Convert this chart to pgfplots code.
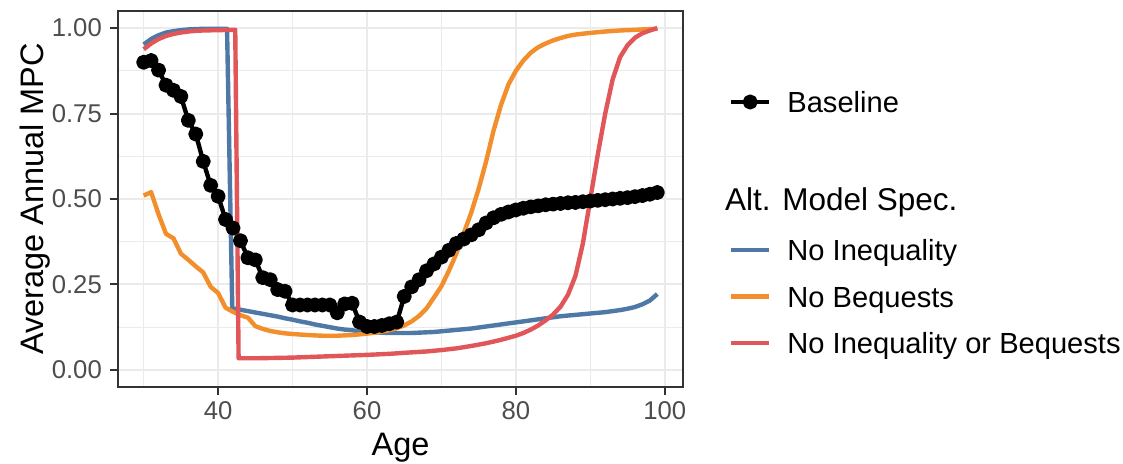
\documentclass[border=0pt]{standalone}
\usepackage{pgfplots}
\usepackage{pgfplotstable}
\pgfplotsset{compat=1.18}
\usepackage{fontspec}
\setmainfont{Liberation Sans}
\definecolor{cblue}{HTML}{4E79A7}
\definecolor{corange}{HTML}{F28E2B}
\definecolor{cred}{HTML}{E15759}
\definecolor{gridc}{HTML}{EBEBEB}
\definecolor{framec}{HTML}{333333}
\definecolor{ticklab}{HTML}{4D4D4D}

\pgfplotstableread{
age mpc
30 0.900
31 0.905
32 0.877
33 0.833
34 0.818
35 0.800
36 0.730
37 0.690
38 0.610
39 0.540
40 0.508
41 0.440
42 0.415
43 0.378
44 0.328
45 0.322
46 0.270
47 0.264
48 0.235
49 0.230
50 0.190
51 0.190
52 0.190
53 0.190
54 0.190
55 0.190
56 0.167
57 0.193
58 0.195
59 0.140
60 0.127
61 0.127
62 0.130
63 0.135
64 0.140
65 0.215
66 0.243
67 0.264
68 0.290
69 0.310
70 0.330
71 0.350
72 0.370
73 0.383
74 0.395
75 0.410
76 0.430
77 0.445
78 0.455
79 0.462
80 0.468
81 0.473
82 0.477
83 0.480
84 0.483
85 0.485
86 0.487
87 0.489
88 0.490
89 0.492
90 0.494
91 0.496
92 0.498
93 0.500
94 0.502
95 0.504
96 0.507
97 0.510
98 0.514
99 0.519
}\baselinetab

\pgfplotstableread{
age mpc
30 0.952
31 0.968
32 0.979
33 0.987
34 0.991
35 0.994
36 0.996
37 0.997
38 0.998
40 0.998
41.2 0.998
41.9 0.180
43 0.176
44 0.172
45 0.168
46 0.164
47 0.160
48 0.156
49 0.151
50 0.147
51 0.142
52 0.138
53 0.133
54 0.129
55 0.125
56 0.121
57 0.118
58 0.116
59 0.113
60 0.111
61 0.110
62 0.109
63 0.108
64 0.108
65 0.108
66 0.108
67 0.109
68 0.110
69 0.111
70 0.113
71 0.115
72 0.117
73 0.119
74 0.121
75 0.124
76 0.127
77 0.130
78 0.133
79 0.136
80 0.139
81 0.142
82 0.145
83 0.148
84 0.151
85 0.154
86 0.157
87 0.159
88 0.161
89 0.163
90 0.165
91 0.167
92 0.169
93 0.172
94 0.175
95 0.179
96 0.184
97 0.192
98 0.203
99 0.222
}\noineqtab

\pgfplotstableread{
age mpc
30 0.510
31 0.520
32 0.455
33 0.398
34 0.385
35 0.340
36 0.322
37 0.303
38 0.285
39 0.243
40 0.225
41 0.182
42 0.170
43 0.160
44 0.153
45 0.128
46 0.120
47 0.114
48 0.110
49 0.107
50 0.105
52 0.102
54 0.100
56 0.100
58 0.102
60 0.106
62 0.112
63 0.116
64 0.122
65 0.130
66 0.142
67 0.158
68 0.180
69 0.212
70 0.245
71 0.290
72 0.340
73 0.400
74 0.460
75 0.530
76 0.610
77 0.700
78 0.775
79 0.835
80 0.875
81 0.905
82 0.928
83 0.944
84 0.955
85 0.964
86 0.971
87 0.977
88 0.981
90 0.986
92 0.990
94 0.993
96 0.995
98 0.997
99 0.998
}\nobeqtab

\pgfplotstableread{
age mpc
30 0.938
31 0.955
32 0.968
33 0.977
34 0.983
35 0.987
36 0.990
37 0.992
38 0.993
40 0.994
42.3 0.995
42.75 0.034
45 0.034
50 0.036
55 0.040
60 0.044
63 0.047
65 0.050
68 0.054
70 0.058
72 0.063
74 0.070
76 0.078
78 0.088
79 0.094
80 0.100
81 0.108
82 0.118
83 0.130
84 0.145
85 0.162
86 0.185
87 0.220
88 0.275
89 0.370
90 0.500
91 0.630
92 0.750
93 0.850
94 0.915
95 0.950
96 0.972
97 0.985
98 0.993
99 1.000
}\bothtab

\pgfplotsset{
  common/.style={
    at={(0pt,0pt)}, anchor=south west,
    scale only axis, width=565pt, height=376pt,
    xmin=26.55, xmax=102.45, ymin=-0.05, ymax=1.05,
  },
  legstyle/.style={
    legend cell align=left,
    legend image code/.code={\draw[mark repeat=2, mark phase=2, ##1] plot coordinates {(0pt,0pt) (19pt,0pt) (38pt,0pt)};},
    legend style={draw=none, fill=none, inner sep=0pt, outer sep=0pt,
      font=\fontsize{29.1pt}{34pt}\selectfont,
      nodes={inner sep=0pt, text height=27pt, text depth=5pt},
      row sep=14.5pt,
      /tikz/every odd column/.style={column sep=16pt}},
  },
}

\begin{document}
\begin{tikzpicture}
\path[use as bounding box] (-118pt,-76pt) rectangle (1005pt,387pt);
\begin{axis}[
  common, legstyle,
  /pgf/number format/assume math mode=true,
  xtick={40,60,80,100}, xticklabels={40,60,80,100},
  ytick={0,0.25,0.5,0.75,1}, yticklabels={0.00,0.25,0.50,0.75,1.00},
  minor xtick={30,50,70,90}, minor ytick={0.125,0.375,0.625,0.875},
  grid=both,
  major grid style={gridc, line width=2pt},
  minor grid style={gridc, line width=1pt},
  axis line style={framec, line width=2pt},
  tick align=outside, tick pos=left,
  major tick length=8pt, minor tick length=0pt,
  major tick style={framec, line width=2pt},
  tick label style={font=\fontsize{25.7pt}{30pt}\selectfont, text=ticklab, inner sep=0pt},
  xticklabel style={anchor=north, yshift=-6pt},
  yticklabel style={anchor=east, xshift=-8pt},
  xlabel={Age}, ylabel={Average Annual MPC},
  label style={font=\fontsize{32.5pt}{38pt}\selectfont, inner sep=0pt},
  xlabel style={at={(axis description cs:0.5,-0.1809)}, anchor=base},
  ylabel style={at={(axis description cs:-0.131,0.5)}, anchor=base},
  legend style={at={(axis description cs:1.0814,0.758)}, anchor=west},
]
\addplot[black, line width=4.4pt, line join=round, mark=*, mark size=5.3pt, mark options={solid}] table[x=age, y=mpc] {\baselinetab};
\addlegendentry{Baseline}
\addplot[forget plot, cblue, line width=4.4pt, line join=round] table[x=age, y=mpc] {\noineqtab};
\addplot[forget plot, corange, line width=4.4pt, line join=round] table[x=age, y=mpc] {\nobeqtab};
\addplot[forget plot, cred, line width=4.4pt, line join=round] table[x=age, y=mpc] {\bothtab};
\end{axis}
\begin{axis}[
  common, legstyle, hide axis,
  legend style={at={(axis description cs:1.0814,0.2407)}, anchor=west},
]
\addlegendimage{cblue, line width=4.4pt}
\addlegendentry{No Inequality}
\addlegendimage{corange, line width=4.4pt}
\addlegendentry{No Bequests}
\addlegendimage{cred, line width=4.4pt}
\addlegendentry{No Inequality or Bequests}
\end{axis}
\node[anchor=base west, inner sep=0pt, font=\fontsize{31.5pt}{38pt}\selectfont] at (607pt,176pt) {Alt. Model Spec.};
\end{tikzpicture}
\end{document}
